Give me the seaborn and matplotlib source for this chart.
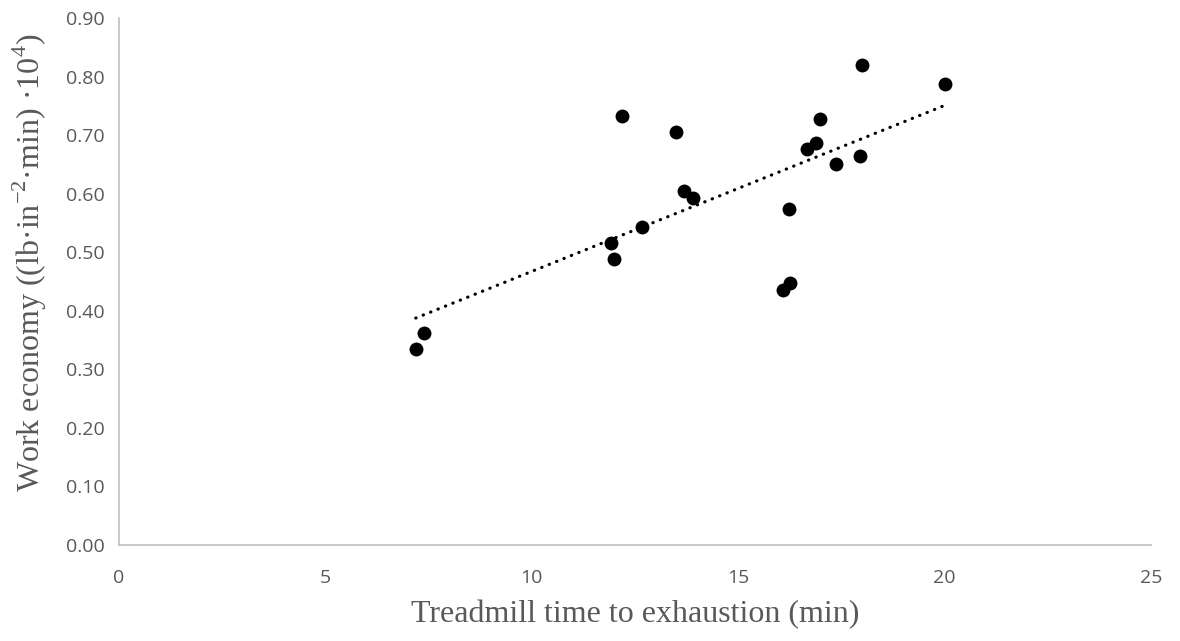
import numpy as np
import pandas as pd

import matplotlib.pyplot as plt
import seaborn as sns

# treadmill time (min) vs work economy
time_min = [7.19, 7.39, 11.92, 11.99, 12.19, 12.67, 13.49, 13.69, 13.90,
            16.09, 16.25, 16.23, 16.67, 16.88, 16.98, 17.37, 17.95, 18.00, 20.00]
economy = [0.334, 0.362, 0.515, 0.488, 0.732, 0.543, 0.705, 0.604, 0.592,
           0.435, 0.447, 0.573, 0.676, 0.686, 0.727, 0.650, 0.664, 0.819, 0.787]
x_ticks = [0, 5, 10, 15, 20, 25]
y_ticks = [0.0, 0.1, 0.2, 0.3, 0.4, 0.5, 0.6, 0.7, 0.8, 0.9]

df = pd.DataFrame({'time': time_min, 'economy': economy})

sns.set_style('white')
plt.rcParams['font.family'] = ['Open Sans', 'DejaVu Sans']

fig = plt.figure(figsize=(11.8, 6.41), dpi=100)
ax = fig.add_axes([0.1008, 0.1498, 0.8746, 0.8221])

sns.regplot(data=df, x='time', y='economy', ax=ax, ci=None,
            scatter_kws={'s': 100, 'color': 'black', 'alpha': 1,
                         'linewidths': 0, 'zorder': 3},
            line_kws={'color': 'black', 'linestyle': (0, (0.1, 2.4)),
                      'linewidth': 2.3, 'dash_capstyle': 'round'})

ax.set_xlim(0, 25)
ax.set_ylim(0, 0.9)
ax.set_xticks(x_ticks)
ax.set_yticks(y_ticks)
ax.set_yticklabels([f'{v:.2f}' for v in y_ticks])

grey = '#595959'
ax.tick_params(axis='both', labelsize=14, colors='#bfbfbf', labelcolor=grey,
               length=5, width=1.2, direction='out')
ax.tick_params(axis='x', pad=12)
ax.tick_params(axis='y', pad=5)
for side in ['top', 'right']:
    ax.spines[side].set_visible(False)
for side in ['left', 'bottom']:
    ax.spines[side].set_color('#bfbfbf')
    ax.spines[side].set_linewidth(1.2)

ax.set_xlabel('Treadmill time to exhaustion (min)', family='Liberation Serif',
              fontsize=23, color=grey)
ax.set_ylabel('Work economy ((lb·in$^{\\mathregular{-2}}$·min) ·10$^{\\mathregular{4}}$)',
              family='Liberation Serif', fontsize=23, color=grey)
ax.xaxis.set_label_coords(0.5, -0.104)
ax.yaxis.set_label_coords(-0.068, 0.535)

fig.savefig('out.png', dpi=100)
